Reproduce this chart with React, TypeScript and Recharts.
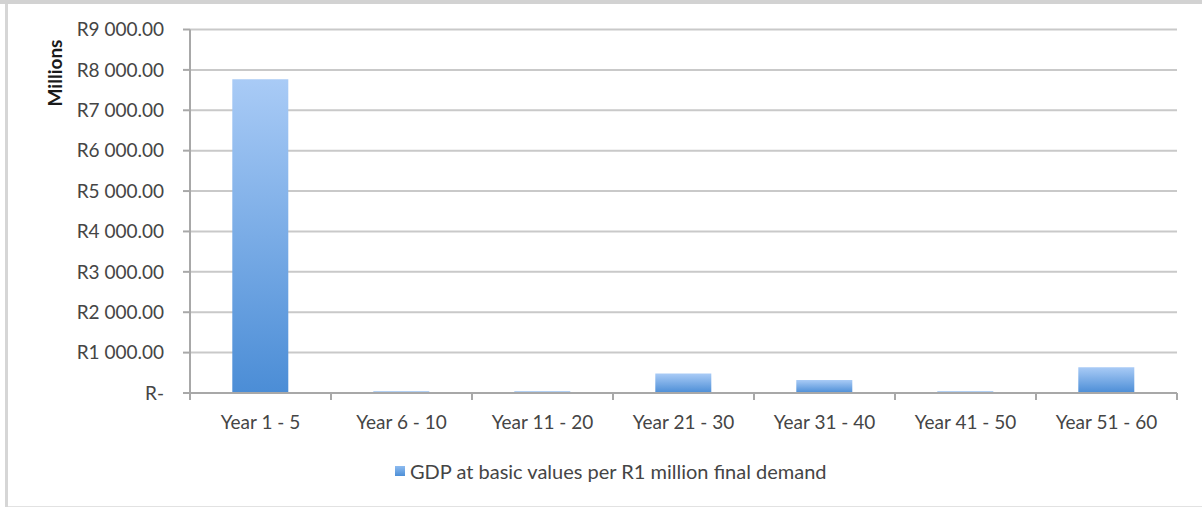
import React from "react";
import { BarChart, Bar, XAxis, YAxis, CartesianGrid, Legend, Label } from "recharts";

// Period buckets and GDP impact (R millions)
const categories = [
  "Year 1 - 5",
  "Year 6 - 10",
  "Year 11 - 20",
  "Year 21 - 30",
  "Year 31 - 40",
  "Year 41 - 50",
  "Year 51 - 60",
];
const gdpValues = [7770, 45, 45, 480, 320, 45, 640];
const yTicks = [0, 1000, 2000, 3000, 4000, 5000, 6000, 7000, 8000, 9000];
const seriesName = "GDP at basic values per R1 million final demand";

const data = categories.map((c, i) => ({ period: c, gdp: gdpValues[i] }));

const W = 1202;
const H = 508;
const Y_AXIS_W = 190;
const M_RIGHT = 25;
const M_TOP = 29.5;
const X_AXIS_H = 60;
const M_BOTTOM = 55;
const AXIS_Y = H - M_BOTTOM - X_AXIS_H;
const BAND = (W - Y_AXIS_W - M_RIGHT) / categories.length;

const FONT = "Lato, 'Open Sans', sans-serif";
const TEXT = "#454545";
const AXIS = "#a8a8a8";
const GRID = "#c9c9c9";

const fmtRand = (v: number) => {
  if (v === 0) return "R-";
  const s = Math.round(v).toString().replace(/\B(?=(\d{3})+(?!\d))/g, " ");
  return `R${s}.00`;
};

const XTick = (props: any) => {
  const { x, y, payload, index } = props;
  const half = BAND / 2;
  return (
    <g>
      <line x1={x - half} x2={x - half} y1={AXIS_Y} y2={AXIS_Y + 7} stroke={AXIS} strokeWidth={2} />
      {index === categories.length - 1 && (
        <line x1={x + half} x2={x + half} y1={AXIS_Y} y2={AXIS_Y + 7} stroke={AXIS} strokeWidth={2} />
      )}
      <text x={x} y={y} dy="0.71em" textAnchor="middle" fill={TEXT} fontSize={19} fontFamily={FONT}>
        {payload.value}
      </text>
    </g>
  );
};

const LegendContent = () => (
  <div style={{ display: "flex", alignItems: "center", fontFamily: FONT, fontSize: 20, color: TEXT, whiteSpace: "nowrap" }}>
    <span
      style={{
        display: "inline-block",
        width: 10,
        height: 10,
        marginRight: 5,
        background: "linear-gradient(#8dbbf0, #4d8fd7)",
      }}
    />
    <span>{seriesName}</span>
  </div>
);

export default function App() {
  return (
    <div style={{ position: "absolute", left: 0, top: 0, width: W, height: H, overflow: "hidden", background: "#fff" }}>
      {/* outer frame */}
      <div style={{ position: "absolute", left: 0, top: 0, width: W, height: 4, background: "#d2d2d2" }} />
      <div style={{ position: "absolute", left: 5, top: 4, width: 3, height: 503, background: "#d6d6d6" }} />
      <div style={{ position: "absolute", left: 8, top: 506, width: W - 8, height: 1, background: "#e2e2e2" }} />
      <div style={{ position: "absolute", left: 0, top: 0 }}>
        <BarChart
          width={W}
          height={H}
          data={data}
          margin={{ top: M_TOP, right: M_RIGHT, bottom: M_BOTTOM, left: 0 }}
          barCategoryGap="30%"
        >
          <defs>
            <linearGradient id="barFill" x1="0" y1="0" x2="0" y2="1">
              <stop offset="0%" stopColor="#a9cbf6" />
              <stop offset="100%" stopColor="#4b8dd6" />
            </linearGradient>
          </defs>
          <CartesianGrid vertical={false} stroke={GRID} strokeWidth={2} />
          <Bar dataKey="gdp" name={seriesName} fill="url(#barFill)" isAnimationActive={false} />
          <XAxis
            dataKey="period"
            height={X_AXIS_H}
            stroke={AXIS}
            strokeWidth={2}
            tickLine={false}
            tickSize={7}
            tickMargin={16}
            tick={<XTick />}
            interval={0}
          />
          <YAxis
            width={Y_AXIS_W}
            domain={[0, 9000]}
            ticks={yTicks}
            tickFormatter={fmtRand}
            stroke={AXIS}
            strokeWidth={2}
            tickSize={7}
            tickMargin={19}
            tick={{ fill: TEXT, fontSize: 19, fontFamily: FONT }}
            interval={0}
          >
            <Label
              content={() => (
                <text
                  x={54}
                  y={73}
                  transform="rotate(-90 54 73)"
                  textAnchor="middle"
                  dominantBaseline="central"
                  fill="#1a1a1a"
                  fontSize={19}
                  fontWeight="bold"
                  fontFamily={FONT}
                >
                  Millions
                </text>
              )}
            />
          </YAxis>
          <Legend
            layout="horizontal"
            align="center"
            verticalAlign="middle"
            content={<LegendContent />}
            wrapperStyle={{ left: 395, top: 459, width: "auto" }}
          />
        </BarChart>
      </div>
    </div>
  );
}
